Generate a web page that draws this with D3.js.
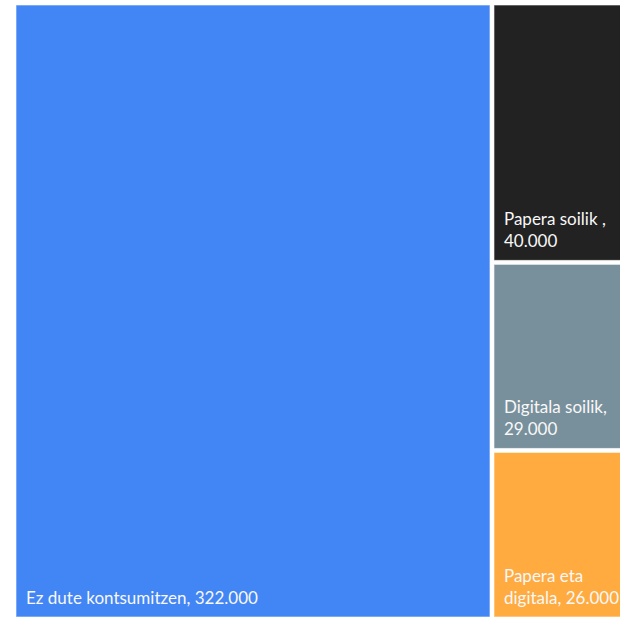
<!DOCTYPE html>
<html>
<head>
<meta charset="utf-8">
<script src="https://cdn.jsdelivr.net/npm/d3@7"></script>
<style>
  html, body { margin: 0; padding: 0; background: #fff; overflow: hidden; }
  svg { display: block; }
  .lbl { font-family: Lato, "Open Sans", sans-serif; font-size: 17px; fill: #f8f8f8; }
</style>
</head>
<body>
<svg id="chart" width="620" height="618"></svg>
<script>
// Newspaper readership groups (people)
const categories = ["Ez dute kontsumitzen", "Papera soilik ", "Digitala soilik", "Papera eta digitala"];
const values = [322000, 40000, 29000, 26000];
const colors = ["#4285f4", "#222222", "#78909c", "#ffab40"];

const locale = d3.formatLocale({ decimal: ",", thousands: ".", grouping: [3], currency: ["", " €"] });
const fmt = locale.format(",");

const svg = d3.select("#chart");
const marginLeft = 16, marginTop = 5, layoutW = 615, layoutH = 612;

const root = d3.hierarchy({
  children: categories.map((name, i) => ({ name, value: values[i], color: colors[i] }))
}).sum(d => d.value || 0);

d3.treemap()
  .tile(d3.treemapSquarify)
  .size([layoutW, layoutH])
  .paddingInner(4)
  .round(false)(root);

const g = svg.append("g").attr("transform", `translate(${marginLeft},${marginTop})`);

const cell = g.selectAll("g.cell")
  .data(root.leaves())
  .join("g")
  .attr("class", "cell")
  .attr("transform", d => `translate(${d.x0},${d.y0})`);

cell.append("rect")
  .attr("width", d => d.x1 - d.x0)
  .attr("height", d => d.y1 - d.y0)
  .attr("fill", d => d.data.color)
  .attr("stroke", "#ffffff")
  .attr("stroke-opacity", 0.6)
  .attr("stroke-width", 1);

// Label anchored bottom-left, wrapped to the cell width
const padX = 10, padBottom = 13, lineH = 22;
cell.each(function(d) {
  const w = d.x1 - d.x0, h = d.y1 - d.y0;
  const words = (d.data.name + ", " + fmt(d.data.value)).split(" ").filter(s => s.length);
  const maxW = w - padX - 6;
  const sel = d3.select(this);
  const probe = sel.append("text").attr("class", "lbl");
  const lines = [];
  let cur = "";
  words.forEach(wd => {
    const test = cur ? cur + " " + wd : wd;
    probe.text(test);
    if (cur && probe.node().getComputedTextLength() > maxW) {
      lines.push(cur);
      cur = wd;
    } else {
      cur = test;
    }
  });
  if (cur) lines.push(cur);
  probe.remove();
  const t = sel.append("text").attr("class", "lbl");
  lines.forEach((ln, i) => {
    t.append("tspan")
      .attr("x", padX)
      .attr("y", h - padBottom - (lines.length - 1 - i) * lineH)
      .text(ln);
  });
});
</script>
</body>
</html>
